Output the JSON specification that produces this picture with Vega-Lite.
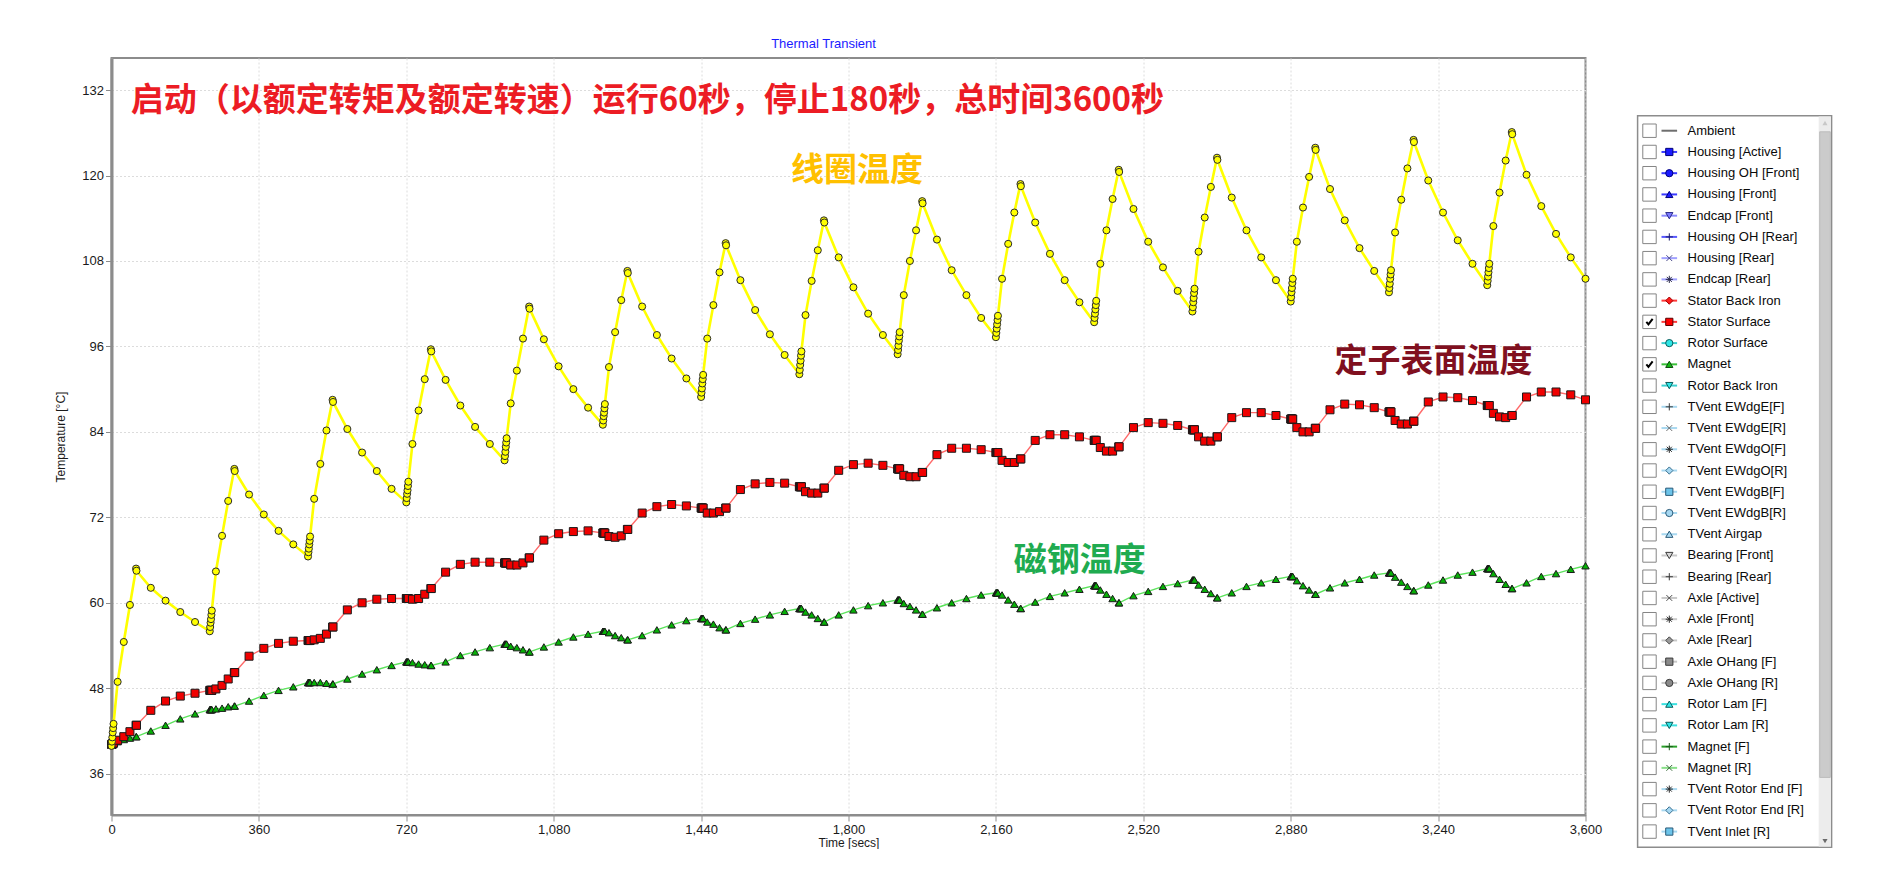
{
"$schema": "https://vega.github.io/schema/vega-lite/v6.json",
"background": "white",
"padding": {"left": 53.5, "top": 36, "right": 0, "bottom": 0},
"autosize": {"type": "pad"},
"bounds": "flush",
"spacing": 51.6,
"resolve": {"scale": {"color": "independent", "fill": "independent", "stroke": "independent", "shape": "independent"}},
"config": {"font": "Liberation Sans", "view": {"stroke": null}},
"datasets": {
"main": [
{"t":0,"c":39.9,"s":40.1,"m":40.1},{"t":1,"c":40.5,"s":40.1,"m":40.1},{"t":2,"c":41.1,"s":40.2,"m":40.1},{"t":3,"c":41.8,"s":40.2,"m":40.2},{"t":4,"c":42.4,"s":40.3,"m":40.2},{"t":5,"c":43.0,"s":40.3,"m":40.2},
{"t":15,"c":48.9,"s":40.7,"m":40.5},{"t":30,"c":54.5,"s":41.2,"m":40.8},{"t":45,"c":59.7,"s":41.9,"m":41.0},{"t":60,"c":64.8,"s":42.8,"m":41.2},{"t":61,"c":64.5,"s":42.8,"m":41.2},
{"t":96,"c":62.1,"s":44.9,"m":42.0},{"t":132,"c":60.3,"s":46.2,"m":42.8},{"t":168,"c":58.7,"s":46.9,"m":43.7},{"t":204,"c":57.3,"s":47.3,"m":44.4},
{"t":240,"c":56.0,"s":47.7,"m":45.0},{"t":241,"c":56.6,"s":47.7,"m":45.0},{"t":242,"c":57.2,"s":47.7,"m":45.0},{"t":243,"c":57.7,"s":47.7,"m":45.0},{"t":244,"c":58.3,"s":47.7,"m":45.0},{"t":245,"c":58.9,"s":47.7,"m":45.0},
{"t":255,"c":64.4,"s":47.9,"m":45.1},{"t":270,"c":69.4,"s":48.4,"m":45.2},{"t":285,"c":74.3,"s":49.3,"m":45.4},{"t":300,"c":78.8,"s":50.2,"m":45.5},{"t":301,"c":78.5,"s":50.2,"m":45.5},
{"t":336,"c":75.2,"s":52.5,"m":46.2},{"t":372,"c":72.4,"s":53.6,"m":47.0},{"t":408,"c":70.1,"s":54.3,"m":47.7},{"t":444,"c":68.2,"s":54.6,"m":48.2},
{"t":480,"c":66.5,"s":54.7,"m":48.8},{"t":481,"c":67.1,"s":54.7,"m":48.8},{"t":482,"c":67.6,"s":54.7,"m":48.8},{"t":483,"c":68.2,"s":54.7,"m":48.8},{"t":484,"c":68.7,"s":54.7,"m":48.8},{"t":485,"c":69.3,"s":54.7,"m":48.8},
{"t":495,"c":74.6,"s":54.8,"m":48.8},{"t":510,"c":79.5,"s":55.0,"m":48.8},{"t":525,"c":84.2,"s":55.6,"m":48.7},{"t":540,"c":88.5,"s":56.6,"m":48.6},{"t":541,"c":88.2,"s":56.6,"m":48.6},
{"t":576,"c":84.4,"s":59.0,"m":49.3},{"t":612,"c":81.1,"s":60.0,"m":50.0},{"t":648,"c":78.5,"s":60.5,"m":50.6},{"t":684,"c":76.0,"s":60.6,"m":51.2},
{"t":720,"c":74.1,"s":60.6,"m":51.7},{"t":721,"c":74.7,"s":60.6,"m":51.7},{"t":722,"c":75.3,"s":60.6,"m":51.7},{"t":723,"c":75.8,"s":60.6,"m":51.7},{"t":724,"c":76.4,"s":60.6,"m":51.7},{"t":725,"c":77.0,"s":60.6,"m":51.7},
{"t":735,"c":82.3,"s":60.5,"m":51.6},{"t":750,"c":87.0,"s":60.6,"m":51.4},{"t":765,"c":91.4,"s":61.2,"m":51.3},{"t":780,"c":95.6,"s":62.0,"m":51.2},{"t":781,"c":95.3,"s":62.0,"m":51.2},
{"t":816,"c":91.3,"s":64.3,"m":51.7},{"t":852,"c":87.7,"s":65.4,"m":52.6},{"t":888,"c":84.7,"s":65.7,"m":53.1},{"t":924,"c":82.3,"s":65.7,"m":53.7},
{"t":960,"c":80.0,"s":65.6,"m":54.2},{"t":961,"c":80.6,"s":65.6,"m":54.2},{"t":962,"c":81.2,"s":65.6,"m":54.2},{"t":963,"c":81.9,"s":65.6,"m":54.2},{"t":964,"c":82.5,"s":65.6,"m":54.2},{"t":965,"c":83.1,"s":65.6,"m":54.2},
{"t":975,"c":88.0,"s":65.3,"m":53.9},{"t":990,"c":92.6,"s":65.3,"m":53.7},{"t":1005,"c":97.1,"s":65.6,"m":53.4},{"t":1020,"c":101.6,"s":66.3,"m":53.1},{"t":1021,"c":101.3,"s":66.3,"m":53.1},
{"t":1056,"c":97.0,"s":68.8,"m":53.8},{"t":1092,"c":93.2,"s":69.7,"m":54.5},{"t":1128,"c":90.0,"s":70.0,"m":55.2},{"t":1164,"c":87.4,"s":70.1,"m":55.6},
{"t":1200,"c":85.0,"s":69.8,"m":56.0},{"t":1201,"c":85.6,"s":69.8,"m":56.0},{"t":1202,"c":86.2,"s":69.8,"m":56.0},{"t":1203,"c":86.7,"s":69.8,"m":56.0},{"t":1204,"c":87.3,"s":69.8,"m":56.0},{"t":1205,"c":87.9,"s":69.8,"m":56.0},
{"t":1215,"c":93.1,"s":69.3,"m":55.8},{"t":1230,"c":98.0,"s":69.2,"m":55.4},{"t":1245,"c":102.5,"s":69.4,"m":55.1},{"t":1260,"c":106.6,"s":70.3,"m":54.8},{"t":1261,"c":106.3,"s":70.3,"m":54.8},
{"t":1296,"c":101.6,"s":72.6,"m":55.4},{"t":1332,"c":97.6,"s":73.5,"m":56.2},{"t":1368,"c":94.3,"s":73.8,"m":56.9},{"t":1404,"c":91.5,"s":73.6,"m":57.5},
{"t":1440,"c":88.9,"s":73.3,"m":57.8},{"t":1441,"c":89.5,"s":73.3,"m":57.8},{"t":1442,"c":90.1,"s":73.3,"m":57.8},{"t":1443,"c":90.8,"s":73.3,"m":57.8},{"t":1444,"c":91.4,"s":73.3,"m":57.8},{"t":1445,"c":92.0,"s":73.3,"m":57.8},
{"t":1455,"c":97.1,"s":72.6,"m":57.3},{"t":1470,"c":101.8,"s":72.6,"m":57.0},{"t":1485,"c":106.4,"s":72.8,"m":56.5},{"t":1500,"c":110.5,"s":73.3,"m":56.2},{"t":1501,"c":110.2,"s":73.3,"m":56.2},
{"t":1536,"c":105.3,"s":75.9,"m":57.1},{"t":1572,"c":101.1,"s":76.7,"m":57.7},{"t":1608,"c":97.7,"s":76.9,"m":58.3},{"t":1644,"c":94.8,"s":76.8,"m":58.8},
{"t":1680,"c":92.1,"s":76.3,"m":59.2},{"t":1681,"c":92.7,"s":76.3,"m":59.2},{"t":1682,"c":93.4,"s":76.3,"m":59.2},{"t":1683,"c":94.0,"s":76.3,"m":59.2},{"t":1684,"c":94.7,"s":76.3,"m":59.2},{"t":1685,"c":95.3,"s":76.3,"m":59.2},
{"t":1695,"c":100.4,"s":75.6,"m":58.7},{"t":1710,"c":105.2,"s":75.4,"m":58.3},{"t":1725,"c":109.5,"s":75.4,"m":57.8},{"t":1740,"c":113.7,"s":76.1,"m":57.3},{"t":1741,"c":113.4,"s":76.1,"m":57.3},
{"t":1776,"c":108.5,"s":78.6,"m":58.3},{"t":1812,"c":104.3,"s":79.4,"m":59.0},{"t":1848,"c":100.6,"s":79.6,"m":59.6},{"t":1884,"c":97.6,"s":79.3,"m":60.0},
{"t":1920,"c":94.9,"s":78.8,"m":60.4},{"t":1921,"c":95.5,"s":78.8,"m":60.4},{"t":1922,"c":96.1,"s":78.8,"m":60.4},{"t":1923,"c":96.8,"s":78.8,"m":60.4},{"t":1924,"c":97.4,"s":78.8,"m":60.4},{"t":1925,"c":98.0,"s":78.8,"m":60.4},
{"t":1935,"c":103.2,"s":77.9,"m":59.9},{"t":1950,"c":108.0,"s":77.7,"m":59.5},{"t":1965,"c":112.3,"s":77.7,"m":59.0},{"t":1980,"c":116.4,"s":78.3,"m":58.4},{"t":1981,"c":116.1,"s":78.3,"m":58.4},
{"t":2016,"c":111.0,"s":80.8,"m":59.3},{"t":2052,"c":106.7,"s":81.7,"m":60.0},{"t":2088,"c":103.2,"s":81.7,"m":60.6},{"t":2124,"c":100.0,"s":81.5,"m":61.1},
{"t":2160,"c":97.3,"s":81.1,"m":61.4},{"t":2161,"c":97.9,"s":81.1,"m":61.4},{"t":2162,"c":98.5,"s":81.1,"m":61.4},{"t":2163,"c":99.1,"s":81.1,"m":61.4},{"t":2164,"c":99.7,"s":81.1,"m":61.4},{"t":2165,"c":100.3,"s":81.1,"m":61.4},
{"t":2175,"c":105.5,"s":80.0,"m":61.1},{"t":2190,"c":110.4,"s":79.7,"m":60.4},{"t":2205,"c":114.8,"s":79.7,"m":59.8},{"t":2220,"c":118.8,"s":80.2,"m":59.2},{"t":2221,"c":118.5,"s":80.2,"m":59.2},
{"t":2256,"c":113.4,"s":82.8,"m":60.1},{"t":2292,"c":109.0,"s":83.6,"m":60.9},{"t":2328,"c":105.3,"s":83.6,"m":61.4},{"t":2364,"c":102.2,"s":83.3,"m":61.9},
{"t":2400,"c":99.4,"s":82.8,"m":62.4},{"t":2401,"c":100.0,"s":82.8,"m":62.4},{"t":2402,"c":100.6,"s":82.8,"m":62.4},{"t":2403,"c":101.2,"s":82.8,"m":62.4},{"t":2404,"c":101.8,"s":82.8,"m":62.4},{"t":2405,"c":102.4,"s":82.8,"m":62.4},
{"t":2415,"c":107.6,"s":81.8,"m":61.8},{"t":2430,"c":112.3,"s":81.3,"m":61.2},{"t":2445,"c":116.7,"s":81.3,"m":60.6},{"t":2460,"c":120.8,"s":81.9,"m":60.0},{"t":2461,"c":120.5,"s":81.9,"m":60.0},
{"t":2496,"c":115.3,"s":84.6,"m":61.0},{"t":2532,"c":110.7,"s":85.3,"m":61.6},{"t":2568,"c":107.1,"s":85.2,"m":62.3},{"t":2604,"c":103.8,"s":84.9,"m":62.7},
{"t":2640,"c":100.9,"s":84.3,"m":63.2},{"t":2641,"c":101.5,"s":84.3,"m":63.2},{"t":2642,"c":102.2,"s":84.3,"m":63.2},{"t":2643,"c":102.8,"s":84.3,"m":63.2},{"t":2644,"c":103.5,"s":84.3,"m":63.2},{"t":2645,"c":104.1,"s":84.3,"m":63.2},
{"t":2655,"c":109.3,"s":83.3,"m":62.5},{"t":2670,"c":114.1,"s":82.7,"m":61.9},{"t":2685,"c":118.4,"s":82.7,"m":61.3},{"t":2700,"c":122.5,"s":83.3,"m":60.7},{"t":2701,"c":122.2,"s":83.3,"m":60.7},
{"t":2736,"c":116.9,"s":86.0,"m":61.4},{"t":2772,"c":112.3,"s":86.7,"m":62.3},{"t":2808,"c":108.5,"s":86.7,"m":62.8},{"t":2844,"c":105.3,"s":86.3,"m":63.3},
{"t":2880,"c":102.3,"s":85.8,"m":63.7},{"t":2881,"c":102.9,"s":85.8,"m":63.7},{"t":2882,"c":103.6,"s":85.8,"m":63.7},{"t":2883,"c":104.2,"s":85.8,"m":63.7},{"t":2884,"c":104.9,"s":85.8,"m":63.7},{"t":2885,"c":105.5,"s":85.8,"m":63.7},
{"t":2895,"c":110.7,"s":84.6,"m":63.1},{"t":2910,"c":115.5,"s":84.0,"m":62.4},{"t":2925,"c":119.8,"s":84.0,"m":61.8},{"t":2940,"c":123.9,"s":84.5,"m":61.2},{"t":2941,"c":123.6,"s":84.5,"m":61.2},
{"t":2976,"c":118.1,"s":87.1,"m":62.1},{"t":3012,"c":113.7,"s":87.9,"m":62.8},{"t":3048,"c":109.8,"s":87.8,"m":63.3},{"t":3084,"c":106.6,"s":87.4,"m":63.9},
{"t":3120,"c":103.6,"s":86.8,"m":64.2},{"t":3121,"c":104.2,"s":86.8,"m":64.2},{"t":3122,"c":104.8,"s":86.8,"m":64.2},{"t":3123,"c":105.5,"s":86.8,"m":64.2},{"t":3124,"c":106.1,"s":86.8,"m":64.2},{"t":3125,"c":106.7,"s":86.8,"m":64.2},
{"t":3135,"c":112.0,"s":85.6,"m":63.6},{"t":3150,"c":116.6,"s":85.1,"m":62.9},{"t":3165,"c":121.0,"s":85.1,"m":62.3},{"t":3180,"c":125.0,"s":85.5,"m":61.7},{"t":3181,"c":124.7,"s":85.5,"m":61.7},
{"t":3216,"c":119.3,"s":88.2,"m":62.5},{"t":3252,"c":114.8,"s":88.9,"m":63.2},{"t":3288,"c":110.9,"s":88.8,"m":63.9},{"t":3324,"c":107.6,"s":88.4,"m":64.3},
{"t":3360,"c":104.6,"s":87.7,"m":64.8},{"t":3361,"c":105.2,"s":87.7,"m":64.8},{"t":3362,"c":105.8,"s":87.7,"m":64.8},{"t":3363,"c":106.4,"s":87.7,"m":64.8},{"t":3364,"c":107.0,"s":87.7,"m":64.8},{"t":3365,"c":107.6,"s":87.7,"m":64.8},
{"t":3375,"c":112.9,"s":86.6,"m":64.1},{"t":3390,"c":117.6,"s":86.1,"m":63.3},{"t":3405,"c":122.1,"s":86.0,"m":62.6},{"t":3420,"c":126.1,"s":86.3,"m":62.0},{"t":3421,"c":125.8,"s":86.3,"m":62.0},
{"t":3456,"c":120.1,"s":88.9,"m":62.8},{"t":3492,"c":115.7,"s":89.6,"m":63.7},{"t":3528,"c":111.8,"s":89.6,"m":64.1},{"t":3564,"c":108.5,"s":89.2,"m":64.7},
{"t":3600,"c":105.5,"s":88.5,"m":65.2}
],
"headline": [{"t": 47.2, "v": 130.4, "label": "启动（以额定转矩及额定转速）运行60秒，停止180秒，总时间3600秒"}],
"notes": [
{"t": 1821, "v": 120.6, "label": "线圈温度"},
{"t": 3229, "v": 93.8, "label": "定子表面温度"},
{"t": 2365, "v": 65.9, "label": "磁钢温度"}
],
"legend": [
{"i":0,"name":"Ambient","on":false},{"i":1,"name":"Housing [Active]","on":false},{"i":2,"name":"Housing OH [Front]","on":false},{"i":3,"name":"Housing [Front]","on":false},
{"i":4,"name":"Endcap [Front]","on":false},{"i":5,"name":"Housing OH [Rear]","on":false},{"i":6,"name":"Housing [Rear]","on":false},{"i":7,"name":"Endcap [Rear]","on":false},
{"i":8,"name":"Stator Back Iron","on":false},{"i":9,"name":"Stator Surface","on":true},{"i":10,"name":"Rotor Surface","on":false},{"i":11,"name":"Magnet","on":true},
{"i":12,"name":"Rotor Back Iron","on":false},{"i":13,"name":"TVent EWdgE[F]","on":false},{"i":14,"name":"TVent EWdgE[R]","on":false},{"i":15,"name":"TVent EWdgO[F]","on":false},
{"i":16,"name":"TVent EWdgO[R]","on":false},{"i":17,"name":"TVent EWdgB[F]","on":false},{"i":18,"name":"TVent EWdgB[R]","on":false},{"i":19,"name":"TVent Airgap","on":false},
{"i":20,"name":"Bearing [Front]","on":false},{"i":21,"name":"Bearing [Rear]","on":false},{"i":22,"name":"Axle [Active]","on":false},{"i":23,"name":"Axle [Front]","on":false},
{"i":24,"name":"Axle [Rear]","on":false},{"i":25,"name":"Axle OHang [F]","on":false},{"i":26,"name":"Axle OHang [R]","on":false},{"i":27,"name":"Rotor Lam [F]","on":false},
{"i":28,"name":"Rotor Lam [R]","on":false},{"i":29,"name":"Magnet [F]","on":false},{"i":30,"name":"Magnet [R]","on":false},{"i":31,"name":"TVent Rotor End [F]","on":false},
{"i":32,"name":"TVent Rotor End [R]","on":false},{"i":33,"name":"TVent Inlet [R]","on":false}
],
"frame": [{"part": "box"}]
},
"hconcat": [
{
"width": 1474, "height": 757,
"view": {"stroke": "#8c8c8c", "strokeWidth": 2},
"title": {"text": "Thermal Transient", "color": "#1a1aff", "font": "Liberation Sans", "fontSize": 13, "fontWeight": "normal", "anchor": "middle", "dx": -25, "offset": -5.6, "baseline": "bottom"},
"encoding": {
"x": {"field": "t", "type": "quantitative", "scale": {"domain": [0, 3600], "nice": false, "zero": false},
 "axis": {"values": [0,360,720,1080,1440,1800,2160,2520,2880,3240,3600], "format": ",d", "title": "Time [secs]", "titleFont": "Liberation Sans", "titleFontSize": 12, "titleFontWeight": "normal", "titleColor": "#1a1a1a", "titlePadding": 1, "labelFont": "Liberation Sans", "labelFontSize": 13, "labelColor": "#1a1a1a", "labelPadding": 2, "labelFlush": false, "tickSize": 6, "tickColor": "#8c8c8c", "domainColor": "#8c8c8c", "domainWidth": 2, "grid": true, "gridColor": "#dcdcdc", "gridDash": [2, 2], "gridWidth": 1}},
"y": {"field": "v", "type": "quantitative", "scale": {"domain": [30.2, 136.5], "nice": false, "zero": false},
 "axis": {"values": [36,48,60,72,84,96,108,120,132], "title": "Temperature [°C]", "titleFont": "Liberation Sans", "titleFontSize": 12, "titleFontWeight": "normal", "titleColor": "#1a1a1a", "titlePadding": 14, "labelFont": "Liberation Sans", "labelFontSize": 13, "labelColor": "#1a1a1a", "labelPadding": 2, "tickSize": 6, "tickColor": "#8c8c8c", "domainColor": "#8c8c8c", "domainWidth": 3, "grid": true, "gridColor": "#dcdcdc", "gridDash": [2, 2], "gridWidth": 1}}
},
"layer": [
{"data": {"name": "main"}, "transform": [{"fold": ["m"], "as": ["k", "v"]}], "mark": {"type": "line", "color": "#5ce35c", "strokeWidth": 1.4}},
{"data": {"name": "main"}, "transform": [{"fold": ["s"], "as": ["k", "v"]}], "mark": {"type": "line", "color": "#ff6a6a", "strokeWidth": 1.4}},
{"data": {"name": "main"}, "transform": [{"fold": ["c"], "as": ["k", "v"]}], "mark": {"type": "line", "color": "#ffff00", "strokeWidth": 2.6}},
{"data": {"name": "main"}, "transform": [{"fold": ["m"], "as": ["k", "v"]}], "mark": {"type": "point", "shape": "triangle-up", "filled": true, "fill": "#06b006", "stroke": "#1a1a1a", "strokeWidth": 1, "size": 55, "opacity": 1}},
{"data": {"name": "main"}, "transform": [{"fold": ["s"], "as": ["k", "v"]}], "mark": {"type": "point", "shape": "square", "filled": true, "fill": "#f00000", "stroke": "#1a1a1a", "strokeWidth": 1, "size": 64, "opacity": 1}},
{"data": {"name": "main"}, "transform": [{"fold": ["c"], "as": ["k", "v"]}], "mark": {"type": "point", "shape": "circle", "filled": true, "fill": "#ffff00", "stroke": "#2a2a2a", "strokeWidth": 1, "size": 50, "opacity": 1}},
{"data": {"name": "headline"}, "mark": {"type": "text", "align": "left", "baseline": "middle", "font": "Noto Sans CJK SC", "fontWeight": "bold", "fontSize": 33, "color": "#ec1c24"}, "encoding": {"text": {"field": "label"}}},
{"data": {"name": "notes"}, "mark": {"type": "text", "align": "center", "baseline": "middle", "font": "Noto Sans CJK SC", "fontWeight": "bold", "fontSize": 33}, "encoding": {"text": {"field": "label"}, "color": {"field": "label", "type": "nominal", "scale": {"domain": ["线圈温度", "定子表面温度", "磁钢温度"], "range": ["#ffc000", "#80101f", "#20ab50"]}, "legend": null}}}
]
},
{
"width": 195, "height": 790,
"view": {"stroke": null},
"layer": [
{"data": {"name": "frame"}, "mark": {"type": "rect", "fill": "#ffffff", "stroke": "#8c8c8c", "strokeWidth": 1.5},
 "encoding": {"x": {"datum": 0.5, "type": "quantitative", "scale": {"domain": [0, 195], "nice": false, "zero": false}, "axis": null}, "x2": {"datum": 194.5},
 "y": {"datum": -0.707, "type": "quantitative", "scale": {"domain": [-3.424, 33.773], "nice": false, "zero": false, "reverse": true}, "axis": null}, "y2": {"datum": 33.74}}},
{"data": {"name": "frame"}, "mark": {"type": "rect", "fill": "#ececec"},
 "encoding": {"x": {"datum": 181.6, "type": "quantitative"}, "x2": {"datum": 193.8}, "y": {"datum": -0.67, "type": "quantitative"}, "y2": {"datum": 33.7}}},
{"data": {"name": "frame"}, "mark": {"type": "rect", "fill": "#cbcbcb", "stroke": "#bcbcbc", "strokeWidth": 1},
 "encoding": {"x": {"datum": 182.6, "type": "quantitative"}, "x2": {"datum": 193.2}, "y": {"datum": 0.05, "type": "quantitative"}, "y2": {"datum": 30.45}}},
{"data": {"name": "frame"}, "mark": {"type": "point", "shape": "triangle-up", "filled": true, "fill": "#c8c8c8", "size": 26, "opacity": 1},
 "encoding": {"x": {"datum": 187.9, "type": "quantitative"}, "y": {"datum": -0.36, "type": "quantitative"}}},
{"data": {"name": "frame"}, "mark": {"type": "point", "shape": "triangle-down", "filled": true, "fill": "#6a6a6a", "size": 26, "opacity": 1},
 "encoding": {"x": {"datum": 187.9, "type": "quantitative"}, "y": {"datum": 33.45, "type": "quantitative"}}},
{"data": {"name": "legend"}, "mark": {"type": "point", "shape": "square", "filled": true, "fill": "#ffffff", "stroke": "#858585", "strokeWidth": 1, "size": 180, "opacity": 1},
 "encoding": {"x": {"datum": 12.4, "type": "quantitative"}, "y": {"field": "i", "type": "quantitative"}}},
{"data": {"name": "legend"}, "transform": [{"filter": "datum.on"}], "mark": {"type": "point", "shape": "M-0.75,0L-0.25,0.6L0.75,-0.7", "filled": false, "stroke": "#000000", "strokeWidth": 2, "size": 70, "opacity": 1},
 "encoding": {"x": {"datum": 12.4, "type": "quantitative"}, "y": {"field": "i", "type": "quantitative"}}},
{"data": {"name": "legend"}, "mark": {"type": "rule", "strokeWidth": 2},
 "encoding": {"x": {"datum": 24.4, "type": "quantitative"}, "x2": {"datum": 40}, "y": {"field": "i", "type": "quantitative"},
 "color": {"field": "name", "type": "nominal", "legend": null, "scale": {
  "domain": ["Ambient","Housing [Active]","Housing OH [Front]","Housing [Front]","Endcap [Front]","Housing OH [Rear]","Housing [Rear]","Endcap [Rear]","Stator Back Iron","Stator Surface","Rotor Surface","Magnet","Rotor Back Iron","TVent EWdgE[F]","TVent EWdgE[R]","TVent EWdgO[F]","TVent EWdgO[R]","TVent EWdgB[F]","TVent EWdgB[R]","TVent Airgap","Bearing [Front]","Bearing [Rear]","Axle [Active]","Axle [Front]","Axle [Rear]","Axle OHang [F]","Axle OHang [R]","Rotor Lam [F]","Rotor Lam [R]","Magnet [F]","Magnet [R]","TVent Rotor End [F]","TVent Rotor End [R]","TVent Inlet [R]"],
  "range": ["#6e6e6e","#3a3aff","#3a3aff","#3a3aff","#8a8aff","#5a5aff","#a0a0ff","#a0a0ff","#ff3a3a","#ff3a3a","#3ad0d0","#3ac03a","#3ad0d0","#a8d8f0","#a8d8f0","#a8d8f0","#a8d8f0","#a8d8f0","#a8d8f0","#a8d8f0","#c8c8c8","#c8c8c8","#c8c8c8","#c8c8c8","#c8c8c8","#c8c8c8","#c8c8c8","#3ae0e0","#3ae0e0","#2aa02a","#8ae08a","#a8d8f0","#a8d8f0","#a8d8f0"]}}}},
{"data": {"name": "legend"}, "transform": [{"filter": "datum.name !== 'Ambient'"}], "mark": {"type": "point", "filled": true, "strokeWidth": 1, "size": 52, "opacity": 1},
 "encoding": {"x": {"datum": 32.2, "type": "quantitative"}, "y": {"field": "i", "type": "quantitative"},
 "shape": {"field": "name", "type": "nominal", "legend": null, "scale": {
  "domain": ["Housing [Active]","Housing OH [Front]","Housing [Front]","Endcap [Front]","Housing OH [Rear]","Housing [Rear]","Endcap [Rear]","Stator Back Iron","Stator Surface","Rotor Surface","Magnet","Rotor Back Iron","TVent EWdgE[F]","TVent EWdgE[R]","TVent EWdgO[F]","TVent EWdgO[R]","TVent EWdgB[F]","TVent EWdgB[R]","TVent Airgap","Bearing [Front]","Bearing [Rear]","Axle [Active]","Axle [Front]","Axle [Rear]","Axle OHang [F]","Axle OHang [R]","Rotor Lam [F]","Rotor Lam [R]","Magnet [F]","Magnet [R]","TVent Rotor End [F]","TVent Rotor End [R]","TVent Inlet [R]"],
  "range": ["square","circle","triangle-up","triangle-down","M-1,0L1,0M0,-1L0,1","M-0.8,-0.8L0.8,0.8M-0.8,0.8L0.8,-0.8","M-1,0L1,0M0,-1L0,1M-0.7,-0.7L0.7,0.7M-0.7,0.7L0.7,-0.7","diamond","square","circle","triangle-up","triangle-down","M-1,0L1,0M0,-1L0,1","M-0.8,-0.8L0.8,0.8M-0.8,0.8L0.8,-0.8","M-1,0L1,0M0,-1L0,1M-0.7,-0.7L0.7,0.7M-0.7,0.7L0.7,-0.7","diamond","square","circle","triangle-up","triangle-down","M-1,0L1,0M0,-1L0,1","M-0.8,-0.8L0.8,0.8M-0.8,0.8L0.8,-0.8","M-1,0L1,0M0,-1L0,1M-0.7,-0.7L0.7,0.7M-0.7,0.7L0.7,-0.7","diamond","square","circle","triangle-up","triangle-down","M-1,0L1,0M0,-1L0,1","M-0.8,-0.8L0.8,0.8M-0.8,0.8L0.8,-0.8","M-1,0L1,0M0,-1L0,1M-0.7,-0.7L0.7,0.7M-0.7,0.7L0.7,-0.7","diamond","square"]}},
 "fill": {"field": "name", "type": "nominal", "legend": null, "scale": {
  "domain": ["Housing [Active]","Housing OH [Front]","Housing [Front]","Endcap [Front]","Housing OH [Rear]","Housing [Rear]","Endcap [Rear]","Stator Back Iron","Stator Surface","Rotor Surface","Magnet","Rotor Back Iron","TVent EWdgE[F]","TVent EWdgE[R]","TVent EWdgO[F]","TVent EWdgO[R]","TVent EWdgB[F]","TVent EWdgB[R]","TVent Airgap","Bearing [Front]","Bearing [Rear]","Axle [Active]","Axle [Front]","Axle [Rear]","Axle OHang [F]","Axle OHang [R]","Rotor Lam [F]","Rotor Lam [R]","Magnet [F]","Magnet [R]","TVent Rotor End [F]","TVent Rotor End [R]","TVent Inlet [R]"],
  "range": ["#1a1aff","#1a1aff","#1a1aff","#7a7aff","transparent","transparent","transparent","#ff1a1a","#ff0000","#2ee6e6","#12b812","#2ee6e6","transparent","transparent","transparent","#a6d8f2","#6cc4ea","#a6d8f2","#a6d8f2","#d8d8d8","transparent","transparent","transparent","#9a9a9a","#8a8a8a","#8a8a8a","#2ee6e6","#2ee6e6","transparent","transparent","transparent","#a6d8f2","#6cc4ea"]}},
 "stroke": {"field": "name", "type": "nominal", "legend": null, "scale": {
  "domain": ["Housing [Active]","Housing OH [Front]","Housing [Front]","Endcap [Front]","Housing OH [Rear]","Housing [Rear]","Endcap [Rear]","Stator Back Iron","Stator Surface","Rotor Surface","Magnet","Rotor Back Iron","TVent EWdgE[F]","TVent EWdgE[R]","TVent EWdgO[F]","TVent EWdgO[R]","TVent EWdgB[F]","TVent EWdgB[R]","TVent Airgap","Bearing [Front]","Bearing [Rear]","Axle [Active]","Axle [Front]","Axle [Rear]","Axle OHang [F]","Axle OHang [R]","Rotor Lam [F]","Rotor Lam [R]","Magnet [F]","Magnet [R]","TVent Rotor End [F]","TVent Rotor End [R]","TVent Inlet [R]"],
  "range": ["#00007a","#00007a","#00007a","#2a2a8a","#1a1a6a","#4a4a8a","#2a2a4a","#a00000","#5a0000","#0a5a5a","#0a4a0a","#0a5a5a","#3a3a3a","#6a6a6a","#2a2a2a","#3a7090","#2a5a78","#2a5a78","#2a5a78","#3a3a3a","#3a3a3a","#4a4a4a","#2a2a2a","#4a4a4a","#3a3a3a","#3a3a3a","#0a5a5a","#0a5a5a","#1a5a1a","#3a6a3a","#2a2a2a","#3a7090","#2a5a78"]}}}},
{"data": {"name": "legend"}, "mark": {"type": "text", "align": "left", "baseline": "middle", "font": "Liberation Sans", "fontSize": 13, "color": "#0a0a0a"},
 "encoding": {"x": {"datum": 50.4, "type": "quantitative"}, "y": {"field": "i", "type": "quantitative"}, "text": {"field": "name"}}}
]
}
]
}
